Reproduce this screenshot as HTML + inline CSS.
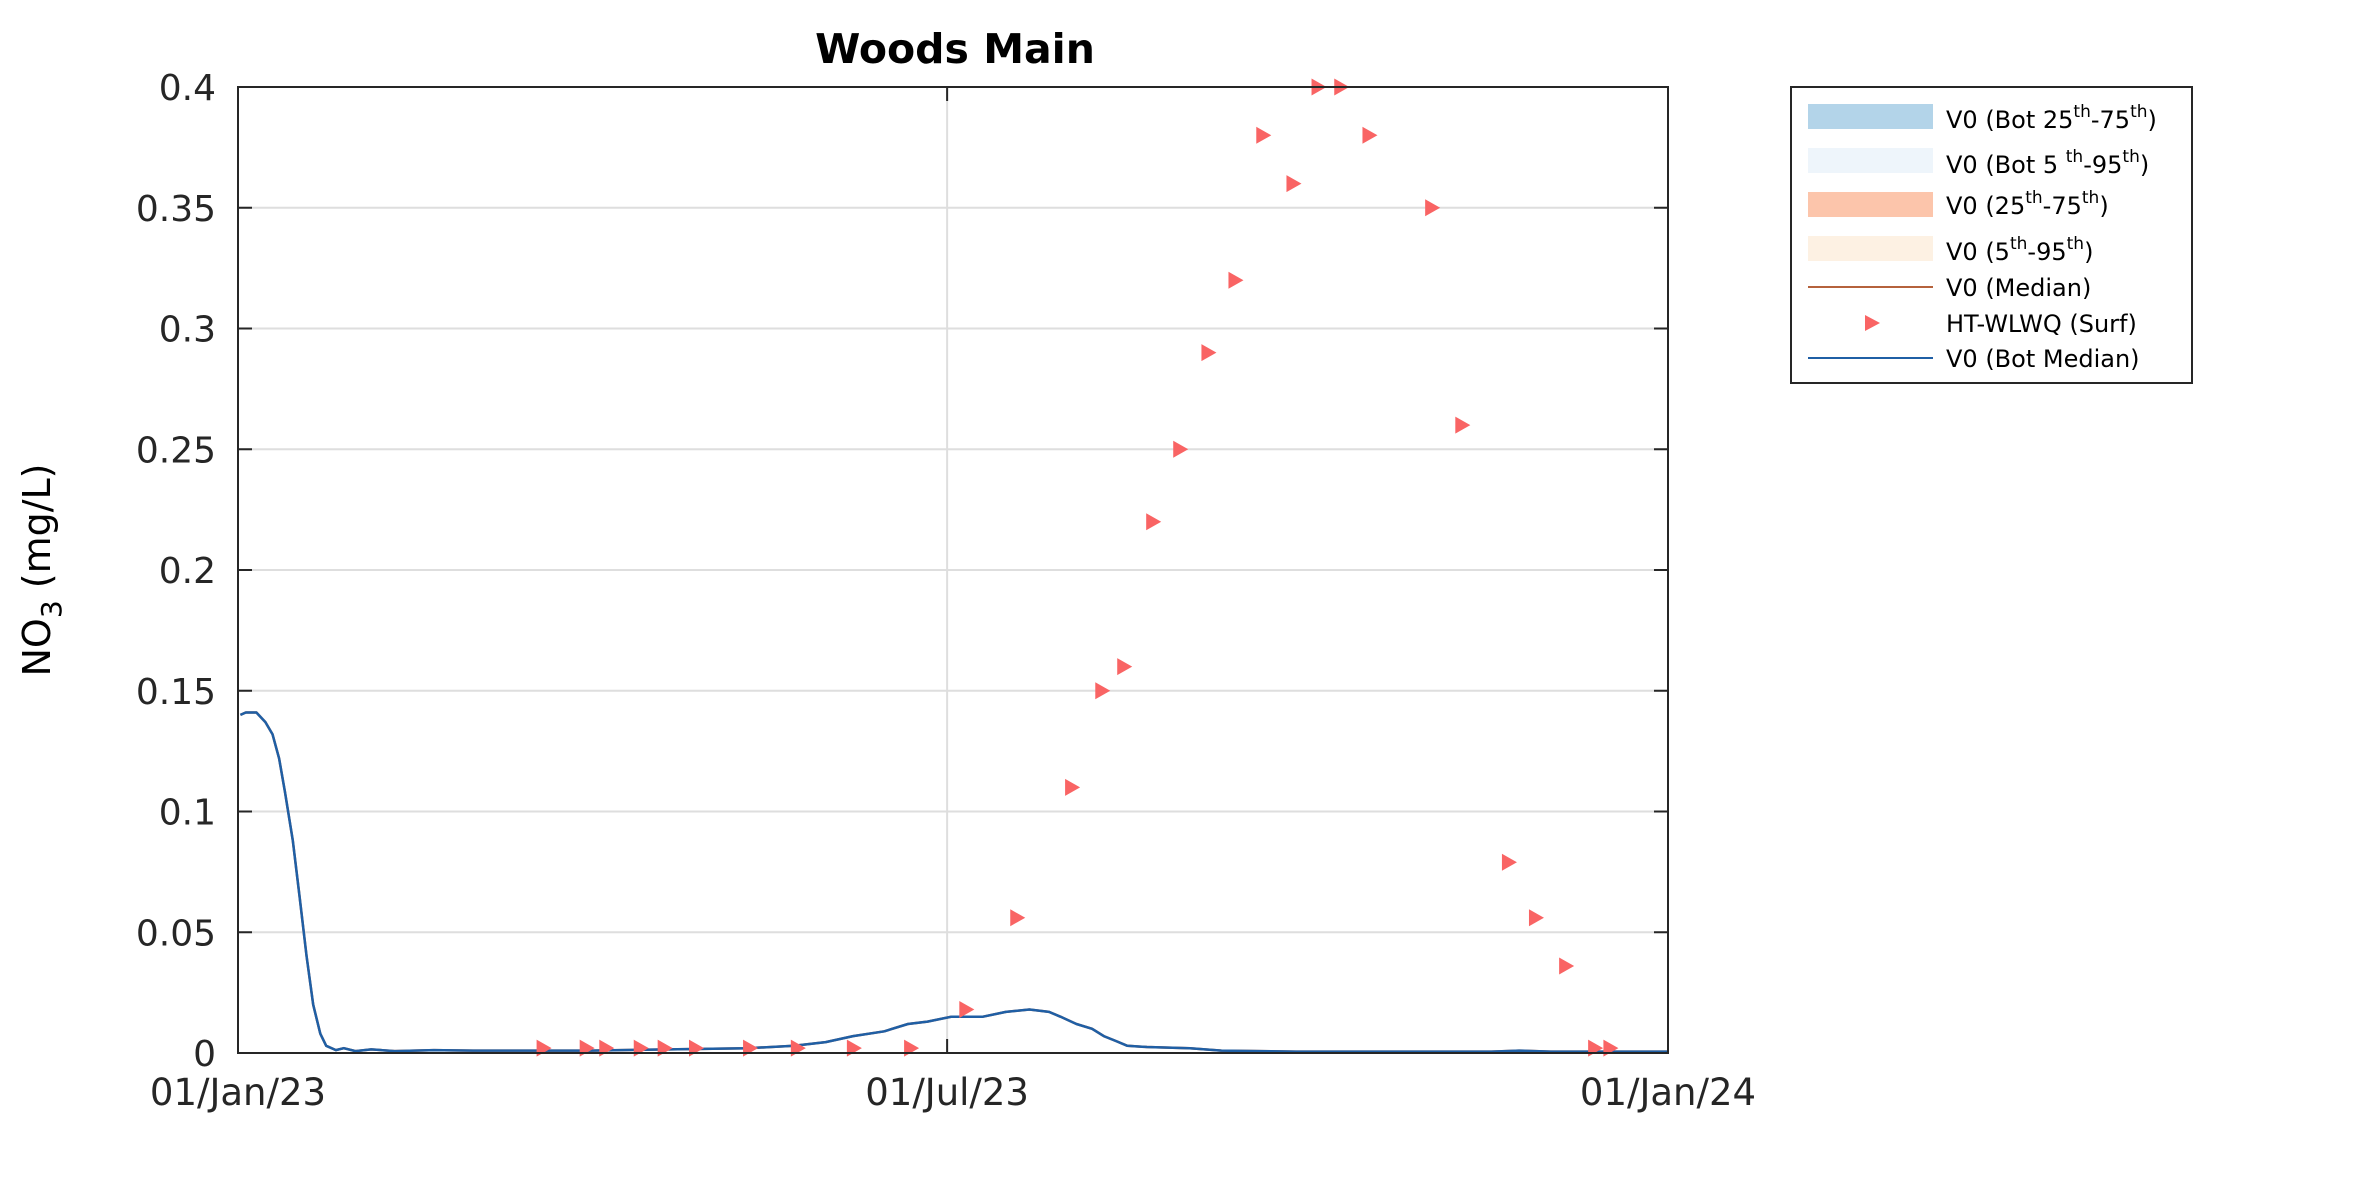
<!DOCTYPE html>
<html><head><meta charset="utf-8"><style>
html,body{margin:0;padding:0;background:#fff;}
svg{display:block;font-family:"DejaVu Sans","Liberation Sans",sans-serif;}
</style></head><body>
<svg id="chart" width="2362" height="1181" viewBox="0 0 2362 1181" xmlns="http://www.w3.org/2000/svg">
<rect width="2362" height="1181" fill="#fff"/>
<text x="955" y="63" text-anchor="middle" font-size="41" font-weight="bold" fill="#000">Woods Main</text>
<g id="grid"></g>
<g id="series"></g>
<rect x="238" y="87" width="1430" height="966" fill="none" stroke="#262626" stroke-width="2"/>
<g id="ticks"></g>
<text transform="translate(50,570) rotate(-90)" text-anchor="middle" font-size="38" fill="#000">NO<tspan font-size="28" dy="11">3</tspan><tspan dy="-11">  (mg/L)</tspan></text>
<g>
<rect x="1791" y="87" width="401" height="296" fill="#fff" stroke="#262626" stroke-width="2"/>
<rect x="1808" y="104" width="125" height="25" fill="#b3d4e9"/>
<rect x="1808" y="148" width="125" height="25" fill="#eef5fb"/>
<rect x="1808" y="192" width="125" height="25" fill="#fcc5ab"/>
<rect x="1808" y="236" width="125" height="25" fill="#fdf1e3"/>
<line x1="1808" y1="287" x2="1933" y2="287" stroke="#b5623c" stroke-width="2"/>
<polygon points="1865,315 1880,323 1865,331" fill="#f96464"/>
<line x1="1808" y1="358" x2="1933" y2="358" stroke="#1f5fa5" stroke-width="2"/>
<g font-size="24" fill="#000">
<text x="1946" y="128">V0 (Bot 25<tspan font-size="17" dy="-11">th</tspan><tspan dy="11">-75</tspan><tspan font-size="17" dy="-11">th</tspan><tspan dy="11">)</tspan></text>
<text x="1946" y="173">V0 (Bot 5 <tspan font-size="17" dy="-11">th</tspan><tspan dy="11">-95</tspan><tspan font-size="17" dy="-11">th</tspan><tspan dy="11">)</tspan></text>
<text x="1946" y="214">V0 (25<tspan font-size="17" dy="-11">th</tspan><tspan dy="11">-75</tspan><tspan font-size="17" dy="-11">th</tspan><tspan dy="11">)</tspan></text>
<text x="1946" y="260">V0 (5<tspan font-size="17" dy="-11">th</tspan><tspan dy="11">-95</tspan><tspan font-size="17" dy="-11">th</tspan><tspan dy="11">)</tspan></text>
<text x="1946" y="296">V0 (Median)</text>
<text x="1946" y="332">HT-WLWQ (Surf)</text>
<text x="1946" y="367">V0 (Bot Median)</text>
</g>
</g>
</svg>
<script>
const yTicks = [0, 0.05, 0.1, 0.15, 0.2, 0.25, 0.3, 0.35, 0.4];
const yTickLabels = ["0", "0.05", "0.1", "0.15", "0.2", "0.25", "0.3", "0.35", "0.4"];
const xTicks = [0, 181, 365];
const xTickLabels = ["01/Jan/23", "01/Jul/23", "01/Jan/24"];
const surfDays = [78.0, 89.0, 94.0, 102.8, 108.9, 116.9, 130.7, 142.9, 157.2, 171.8, 185.9, 198.9, 212.9, 220.6, 226.2, 233.6, 240.5, 247.7, 254.6, 261.7, 269.4, 275.8, 281.6, 288.8, 304.8, 312.5, 324.4, 331.3, 339.0, 346.4, 350.3];
const surfValues = [0.002, 0.002, 0.002, 0.002, 0.002, 0.002, 0.002, 0.002, 0.002, 0.002, 0.018, 0.056, 0.11, 0.15, 0.16, 0.22, 0.25, 0.29, 0.32, 0.38, 0.36, 0.40, 0.40, 0.38, 0.35, 0.26, 0.079, 0.056, 0.036, 0.002, 0.002];
const botDays = [0.6, 2, 4.7, 7, 8.8, 10.5, 12, 14, 15.7, 17.5, 19.2, 21, 22.5, 25, 27, 30, 34, 40, 50, 60, 90, 110, 130, 142, 150, 157, 165, 171, 176, 182, 190, 196, 202, 207, 210, 214, 218, 221, 224, 227, 232, 243, 251, 270, 300, 320, 327, 335, 365];
const botValues = [0.140, 0.141, 0.141, 0.137, 0.132, 0.122, 0.108, 0.088, 0.065, 0.040, 0.020, 0.008, 0.003, 0.0012, 0.002, 0.0008, 0.0015, 0.0008, 0.0012, 0.001, 0.001, 0.0015, 0.002, 0.003, 0.0045, 0.007, 0.009, 0.012, 0.013, 0.015, 0.015, 0.017, 0.018, 0.017, 0.015, 0.012, 0.010, 0.007, 0.005, 0.003, 0.0025, 0.002, 0.001, 0.0006, 0.0006, 0.0006, 0.001, 0.0006, 0.0006];

const X0 = 238, X1 = 1668, Y0 = 1053, Y1 = 87;
const xScale = d => X0 + d / 365 * (X1 - X0);
const yScale = v => Y0 - v / 0.4 * (Y0 - Y1);
const NS = "http://www.w3.org/2000/svg";
function mk(tag, attrs, parent) {
  const el = document.createElementNS(NS, tag);
  for (const k in attrs) el.setAttribute(k, attrs[k]);
  parent.appendChild(el);
  return el;
}
const grid = document.getElementById("grid");
const ticks = document.getElementById("ticks");
const series = document.getElementById("series");

yTicks.forEach((v, i) => {
  const y = yScale(v);
  if (i > 0 && i < yTicks.length - 1) {
    const g = mk("line", {x1: X0, x2: X1, y1: y, y2: y, stroke: "#dedede", "stroke-width": 2}, grid);
    
    
  }
  const t1 = mk("line", {x1: X0, x2: X0 + 14, y1: y, y2: y, stroke: "#262626", "stroke-width": 2}, ticks);
  
  
  const t2 = mk("line", {x1: X1 - 14, x2: X1, y1: y, y2: y, stroke: "#262626", "stroke-width": 2}, ticks);
  
  
  const lab = mk("text", {x: 216, y: y + 13, "text-anchor": "end", "font-size": 36, fill: "#262626"}, ticks);
  
  
  lab.textContent = yTickLabels[i];
});
xTicks.forEach((d, i) => {
  const x = xScale(d);
  if (i > 0 && i < xTicks.length - 1) {
    const g = mk("line", {x1: x, x2: x, y1: Y1, y2: Y0, stroke: "#dedede", "stroke-width": 2}, grid);
    
    
  }
  const t1 = mk("line", {x1: x, x2: x, y1: Y0, y2: Y0 - 14, stroke: "#262626", "stroke-width": 2}, ticks);
  
  
  const t2 = mk("line", {x1: x, x2: x, y1: Y1, y2: Y1 + 14, stroke: "#262626", "stroke-width": 2}, ticks);
  
  
  const lab = mk("text", {x: x, y: 1105, "text-anchor": "middle", "font-size": 37, fill: "#262626"}, ticks);
  
  
  lab.textContent = xTickLabels[i];
});

const pts = botDays.map((d, i) => xScale(d).toFixed(1) + "," + yScale(botValues[i]).toFixed(1)).join(" ");
const med = mk("polyline", {points: pts, fill: "none", stroke: "#b5623c", "stroke-width": 2.5}, series);


const bot = mk("polyline", {points: pts, fill: "none", stroke: "#1f5fa5", "stroke-width": 2.5, "stroke-linejoin": "round"}, series);



surfDays.forEach((d, i) => {
  const cx = xScale(d), cy = yScale(surfValues[i]);
  const p = mk("polygon", {points: `${cx - 7},${cy - 8.5} ${cx + 8},${cy} ${cx - 7},${cy + 8.5}`, fill: "#f96464"}, series);
  
  
});
</script>
</body></html>
